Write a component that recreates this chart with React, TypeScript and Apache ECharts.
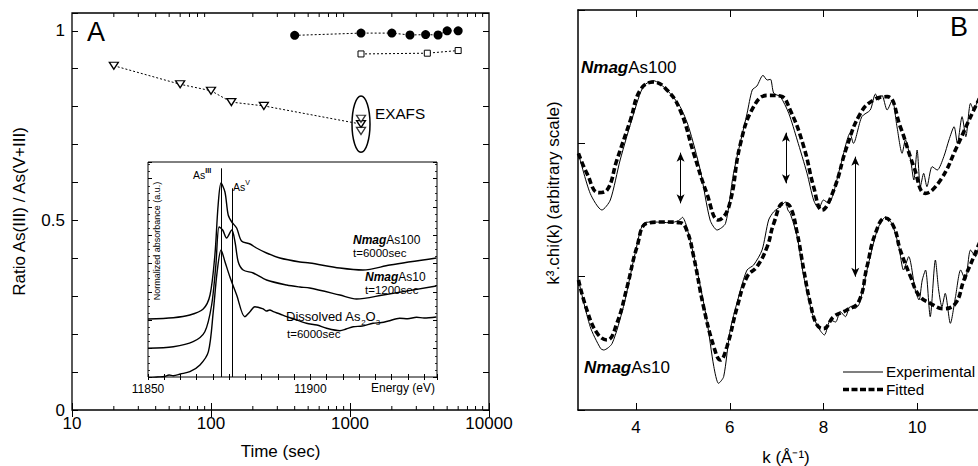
import React, { useEffect, useRef } from 'react';
import * as echarts from 'echarts';

const FONT = '"Liberation Sans", Arial, Helvetica, sans-serif';

// ---------- Panel A : ratio As(III)/As(V+III) vs time ----------
const circleTime = [400, 1200, 2000, 2700, 3500, 4300, 5000, 6000];
const circleRatio = [0.988, 0.994, 0.994, 0.989, 0.99, 0.989, 1.0, 1.0];
const squareTime = [1200, 3600, 6000];
const squareRatio = [0.939, 0.941, 0.948];
const triangleTime = [20, 60, 100, 140, 240, 1200];
const triangleRatio = [0.908, 0.859, 0.842, 0.812, 0.802, 0.754];
const exafsTime = [1200, 1200];
const exafsRatio = [0.768, 0.736];
const ratioLabels = ['0', '0.5', '1'];
const timeMinorTicks = [20, 30, 40, 50, 60, 70, 80, 90, 200, 300, 400, 500, 600, 700, 800, 900, 2000, 3000, 4000, 5000, 6000, 7000, 8000, 9000];
const exafsEllipse = { time: 1200, top: 0.828, bottom: 0.68 };

// ---------- Inset : XANES ----------
const xanesAs100: [number, number][] = [
  [11850, 0.58], [11857.8, 0.593], [11862.9, 0.62], [11867.0, 0.68], [11869.1, 0.82], [11870.6, 1.22],
  [11871.6, 1.72], [11872.5, 1.94], [11873.7, 1.85], [11874.7, 1.62], [11875.8, 1.55], [11877.3, 1.49],
  [11878.8, 1.36], [11881.4, 1.33], [11883.4, 1.29], [11886.5, 1.24], [11890.6, 1.19], [11896.8, 1.15],
  [11899.8, 1.14], [11909.1, 1.09], [11916.2, 1.07], [11924.5, 1.12], [11938.8, 1.19],
];
const xanesAs10: [number, number][] = [
  [11850, 0.287], [11857.8, 0.303], [11863.9, 0.353], [11867.5, 0.453], [11869.6, 0.72], [11870.9, 1.12],
  [11871.9, 1.5], [11873.0, 1.47], [11874.2, 1.39], [11875.8, 1.47], [11876.8, 1.35], [11877.8, 1.15],
  [11879.3, 1.07], [11882.4, 1.04], [11886.5, 0.97], [11892.7, 0.92], [11896.8, 0.9], [11899.8, 0.89],
  [11909.1, 0.82], [11914.2, 0.78], [11922.4, 0.82], [11938.8, 0.91],
];
const xanesAs2O3: [number, number][] = [
  [11850.5, -0.01], [11853, 0.0], [11855, 0.005], [11856.5, 0.02], [11857.8, 0.013], [11860, 0.03],
  [11862.9, 0.053], [11866.0, 0.12], [11868.6, 0.253], [11870.1, 0.653], [11871.3, 1.053], [11872.5, 1.27],
  [11873.7, 1.153], [11875.2, 1.003], [11877.3, 0.82], [11879.8, 0.603], [11881.4, 0.653], [11882.9, 0.703],
  [11885.5, 0.68], [11886.5, 0.66], [11887.5, 0.67], [11888.6, 0.653], [11890.6, 0.63], [11892.7, 0.603],
  [11895, 0.58], [11898.8, 0.537], [11902, 0.52], [11905.0, 0.487], [11909.1, 0.463], [11911, 0.48],
  [11913.2, 0.503], [11916, 0.51], [11919.3, 0.537], [11922, 0.545], [11924, 0.56], [11927.5, 0.587],
  [11930, 0.583], [11932.7, 0.597], [11935, 0.59], [11938.8, 0.6],
];
const edgeAsIII = { energy: 11872.7, top: 2.087 };
const edgeAsV = { energy: 11875.8, top: 1.887 };
const energyLabels = [11850, 11900];

// ---------- Panel B : EXAFS k3.chi(k) ----------
const topExp: [number, number][] = [
  [2.77, 1.925], [3.02, 1.625], [3.27, 1.5], [3.45, 1.575], [3.66, 1.875], [3.95, 2.225], [4.16, 2.43],
  [4.37, 2.47], [4.66, 2.4], [4.94, 2.275], [5.12, 2.125], [5.37, 1.8], [5.58, 1.425], [5.73, 1.35],
  [5.91, 1.4], [6.08, 1.775], [6.37, 2.225], [6.48, 2.4], [6.58, 2.43], [6.71, 2.51], [6.8, 2.475],
  [6.87, 2.48], [6.94, 2.375], [7.08, 2.35], [7.26, 2.225], [7.44, 2.025], [7.65, 1.775], [7.79, 1.575],
  [7.9, 1.51], [8.0, 1.575], [8.11, 1.55], [8.36, 1.825], [8.57, 2.075], [8.64, 2.0], [8.82, 2.2],
  [9.0, 2.25], [9.11, 2.37], [9.18, 2.325], [9.25, 2.36], [9.36, 2.25], [9.47, 2.325], [9.57, 2.125],
  [9.68, 1.925], [9.75, 2.025], [9.86, 1.875], [9.93, 1.725], [10.0, 1.95], [10.07, 1.675], [10.14, 1.775],
  [10.21, 1.675], [10.32, 1.825], [10.43, 1.8], [10.57, 1.9], [10.68, 2.025], [10.79, 2.125], [10.86, 2.0],
  [10.96, 2.2], [11.04, 2.05], [11.14, 2.3], [11.21, 2.25], [11.32, 2.35], [11.5, 2.45],
];
const topFit: [number, number][] = [
  [2.77, 1.925], [2.95, 1.775], [3.2, 1.63], [3.38, 1.65], [3.59, 1.875], [3.88, 2.175], [4.09, 2.4],
  [4.37, 2.46], [4.66, 2.4], [4.94, 2.25], [5.23, 1.925], [5.51, 1.625], [5.76, 1.425], [5.98, 1.525],
  [6.23, 2.0], [6.51, 2.275], [6.8, 2.36], [7.08, 2.355], [7.29, 2.25], [7.58, 1.975], [7.79, 1.675],
  [7.97, 1.5], [8.22, 1.65], [8.5, 1.975], [8.79, 2.225], [9.07, 2.325], [9.36, 2.35], [9.64, 2.125],
  [9.93, 1.825], [10.18, 1.625], [10.5, 1.725], [10.85, 1.975], [11.21, 2.25], [11.5, 2.45],
];
const botExp: [number, number][] = [
  [2.77, 0.975], [3.02, 0.625], [3.24, 0.4625], [3.31, 0.45], [3.49, 0.5], [3.73, 0.775], [3.98, 1.175],
  [4.16, 1.4], [4.38, 1.41], [4.73, 1.405], [4.91, 1.42], [4.99, 1.445], [5.08, 1.375], [5.3, 1.05],
  [5.51, 0.675], [5.66, 0.325], [5.76, 0.2], [5.87, 0.25], [6.01, 0.6], [6.23, 0.9], [6.37, 1.05],
  [6.51, 1.0875], [6.69, 1.2], [6.83, 1.425], [6.94, 1.4875], [7.08, 1.525], [7.19, 1.56], [7.24, 1.5],
  [7.29, 1.475], [7.44, 1.3], [7.58, 1.0], [7.76, 0.725], [7.9, 0.6125], [8.02, 0.5625], [8.15, 0.675],
  [8.26, 0.66], [8.36, 0.7375], [8.47, 0.7], [8.57, 0.775], [8.68, 0.7625], [8.77, 0.8], [8.93, 1.05],
  [9.15, 1.35], [9.32, 1.445], [9.46, 1.4], [9.61, 1.225], [9.71, 1.05], [9.82, 1.15], [9.96, 0.9],
  [10.04, 0.825], [10.11, 0.975], [10.18, 1.05], [10.28, 0.7], [10.39, 1.125], [10.46, 0.9], [10.53, 0.775],
  [10.6, 0.875], [10.71, 0.65], [10.82, 0.85], [10.93, 1.05], [11.03, 0.975], [11.14, 1.2], [11.25, 1.15],
  [11.32, 1.225], [11.5, 1.4],
];
const botFit: [number, number][] = [
  [2.77, 0.975], [2.95, 0.75], [3.17, 0.575], [3.38, 0.525], [3.59, 0.65], [3.81, 0.925], [4.02, 1.225],
  [4.23, 1.4], [4.59, 1.41], [4.94, 1.405], [5.08, 1.35], [5.23, 1.15], [5.44, 0.775], [5.66, 0.475],
  [5.8, 0.375], [5.94, 0.475], [6.16, 0.775], [6.37, 1.0], [6.58, 1.075], [6.8, 1.225], [6.94, 1.4],
  [7.15, 1.55], [7.29, 1.525], [7.44, 1.325], [7.58, 1.05], [7.72, 0.8], [7.86, 0.64], [8.0, 0.61],
  [8.22, 0.7], [8.5, 0.75], [8.75, 0.81], [8.93, 1.075], [9.11, 1.325], [9.32, 1.44], [9.5, 1.375],
  [9.64, 1.2], [9.86, 1.0], [10.04, 0.86], [10.28, 0.8], [10.57, 0.76], [10.82, 0.8], [11.0, 0.975],
  [11.21, 1.15], [11.5, 1.4],
];
const kMin = 2.76;
const kMax = 11.3;
const kTicks = [4, 6, 8, 10];
const arrows = [
  { k: 4.95, from: 1.93, to: 1.55 },
  { k: 7.2, from: 2.08, to: 1.7 },
  { k: 8.68, from: 1.9, to: 1.0 },
];
const legendNames = ['Experimental', 'Fitted'];

const near = (a: number, b: number) => Math.abs(a - b) < 1e-6;

const txt = (x: number, y: number, text: string, size: number, extra: any = {}) => ({
  type: 'text',
  x,
  y,
  z: 100,
  silent: true,
  style: {
    text,
    fill: '#000',
    fontSize: size,
    fontFamily: FONT,
    align: 'left',
    verticalAlign: 'middle',
    textAlign: 'left',
    textVerticalAlign: 'middle',
    ...extra,
  },
});

const nmag = (x: number, y: number, suffix: string, size: number) => ({
  type: 'text',
  x,
  y,
  z: 100,
  silent: true,
  style: {
    text: `{b|Nmag}{n|${suffix}}`,
    align: 'left',
    verticalAlign: 'middle',
    textAlign: 'left',
    textVerticalAlign: 'middle',
    rich: {
      b: { fontSize: size, fontWeight: 'bold', fontStyle: 'italic', fontFamily: FONT, fill: '#000', color: '#000' },
      n: { fontSize: size, fontFamily: FONT, fill: '#000', color: '#000' },
    },
  },
});

const tickStyle = { show: true, inside: true, lineStyle: { color: '#000', width: 1 } };

function buildOption() {
  const lineA = { color: '#000', width: 1, type: [2, 2] as any };
  return {
    animation: false,
    backgroundColor: '#fff',
    textStyle: { fontFamily: FONT, color: '#000' },
    grid: [
      { left: 72, top: 13, width: 417, height: 397, show: true, borderColor: '#000', borderWidth: 1.3, backgroundColor: 'transparent' },
      { left: 148, top: 162, width: 289, height: 215, show: true, borderColor: '#000', borderWidth: 1, backgroundColor: '#fff' },
      { left: 578, top: 10, right: 0, height: 400, show: false },
    ],
    xAxis: [
      {
        type: 'log', logBase: 10, gridIndex: 0, min: 10, max: 10000, position: 'bottom',
        axisLine: { show: false }, splitLine: { show: false },
        axisTick: { ...tickStyle, length: 7 },
        axisLabel: { fontSize: 17, color: '#000', fontFamily: FONT, margin: 5, formatter: (v: number) => String(Math.round(v)) },
        name: 'Time (sec)', nameLocation: 'middle', nameGap: 33,
        nameTextStyle: { fontSize: 17, color: '#000', fontFamily: FONT },
      },
      {
        type: 'log', logBase: 10, gridIndex: 0, min: 10, max: 10000, position: 'top',
        axisLine: { show: false }, splitLine: { show: false },
        axisTick: { ...tickStyle, length: 7 }, axisLabel: { show: false },
      },
      {
        type: 'value', gridIndex: 1, min: 11850, max: 11939, interval: 5, position: 'bottom',
        axisLine: { show: false }, splitLine: { show: false },
        axisTick: { ...tickStyle, length: 3 },
        axisLabel: {
          fontSize: 12, color: '#000', fontFamily: FONT, margin: 6,
          formatter: (v: number) => (energyLabels.some((e) => near(e, v)) ? String(Math.round(v)) : ''),
        },
      },
      {
        type: 'value', gridIndex: 1, min: 11850, max: 11939, interval: 5, position: 'top',
        axisLine: { show: false }, splitLine: { show: false },
        axisTick: { ...tickStyle, length: 3 }, axisLabel: { show: false },
      },
      {
        type: 'value', gridIndex: 2, min: kMin, max: kMax, position: 'bottom',
        axisLine: { show: true, lineStyle: { color: '#000', width: 1.5 } }, splitLine: { show: false },
        axisTick: { ...tickStyle, length: 7, customValues: kTicks },
        axisLabel: { fontSize: 17, color: '#000', fontFamily: FONT, margin: 9, customValues: kTicks, formatter: (v: number) => String(v) },
      },
      {
        type: 'value', gridIndex: 2, min: kMin, max: kMax, position: 'top',
        axisLine: { show: true, lineStyle: { color: '#000', width: 1.5 } }, splitLine: { show: false },
        axisTick: { ...tickStyle, length: 7, customValues: kTicks },
        axisLabel: { show: false, customValues: kTicks },
      },
    ],
    yAxis: [
      {
        type: 'value', gridIndex: 0, min: 0, max: 1.047, interval: 0.1, position: 'left',
        axisLine: { show: false }, splitLine: { show: false },
        axisTick: { ...tickStyle, length: 6 },
        axisLabel: {
          fontSize: 17, color: '#000', fontFamily: FONT, margin: 7,
          formatter: (v: number) => {
            const hit = ratioLabels.find((l) => near(Number(l), v));
            return hit ?? '';
          },
        },
        name: 'Ratio As(III) / As(V+III)', nameLocation: 'middle', nameGap: 44,
        nameTextStyle: { fontSize: 17, color: '#000', fontFamily: FONT },
      },
      {
        type: 'value', gridIndex: 0, min: 0, max: 1.047, interval: 0.1, position: 'right',
        axisLine: { show: false }, splitLine: { show: false },
        axisTick: { ...tickStyle, length: 6 }, axisLabel: { show: false },
      },
      {
        type: 'value', gridIndex: 1, min: 0, max: 2.15, interval: 0.28333, position: 'left',
        axisLine: { show: false }, splitLine: { show: false },
        axisTick: { ...tickStyle, length: 4 },
        minorTick: { show: true, splitNumber: 4, length: 2, lineStyle: { color: '#000', width: 0.8 } },
        axisLabel: { show: false },
      },
      {
        type: 'value', gridIndex: 1, min: 0, max: 2.15, interval: 0.28333, position: 'right',
        axisLine: { show: false }, splitLine: { show: false },
        axisTick: { ...tickStyle, length: 4 },
        minorTick: { show: true, splitNumber: 4, length: 2, lineStyle: { color: '#000', width: 0.8 } },
        axisLabel: { show: false },
      },
      {
        type: 'value', gridIndex: 2, min: 0, max: 3, interval: 1, position: 'left',
        axisLine: { show: true, lineStyle: { color: '#000', width: 1.5 } }, splitLine: { show: false },
        axisTick: { ...tickStyle, length: 7 }, axisLabel: { show: false },
      },
    ],
    series: [
      // Panel A
      {
        type: 'line', name: 'circles', xAxisIndex: 0, yAxisIndex: 0,
        data: circleTime.map((t, i) => [t, circleRatio[i]]),
        symbol: 'circle', symbolSize: 9, itemStyle: { color: '#000' }, lineStyle: lineA, z: 5,
      },
      {
        type: 'line', name: 'squares', xAxisIndex: 0, yAxisIndex: 0,
        data: squareTime.map((t, i) => [t, squareRatio[i]]),
        symbol: 'rect', symbolSize: 6, itemStyle: { color: '#fff', borderColor: '#000', borderWidth: 1 }, lineStyle: lineA, z: 5,
      },
      {
        type: 'line', name: 'triangles', xAxisIndex: 0, yAxisIndex: 0,
        data: triangleTime.map((t, i) => [t, triangleRatio[i]]),
        symbol: 'triangle', symbolRotate: 180, symbolSize: [9, 7],
        itemStyle: { color: '#fff', borderColor: '#000', borderWidth: 1.3 }, lineStyle: lineA, z: 5,
      },
      {
        type: 'scatter', name: 'exafs', xAxisIndex: 0, yAxisIndex: 0,
        data: exafsTime.map((t, i) => [t, exafsRatio[i]]),
        symbol: 'triangle', symbolRotate: 180, symbolSize: [9, 7],
        itemStyle: { color: '#fff', borderColor: '#000', borderWidth: 1.3 }, z: 5,
      },
      {
        type: 'custom', name: 'minorTicks', xAxisIndex: 0, yAxisIndex: 0, silent: true,
        data: timeMinorTicks.map((t) => [t, 0.5]),
        renderItem: (params: any, api: any) => {
          const x = api.coord([api.value(0), 0.5])[0];
          const cs = params.coordSys;
          const b = cs.y + cs.height;
          return {
            type: 'group',
            children: [
              { type: 'line', shape: { x1: x, y1: b, x2: x, y2: b - 4 }, style: { stroke: '#000', lineWidth: 1 } },
              { type: 'line', shape: { x1: x, y1: cs.y, x2: x, y2: cs.y + 4 }, style: { stroke: '#000', lineWidth: 1 } },
            ],
          };
        },
      },
      // Inset
      {
        type: 'line', name: 'NmagAs100 XANES', xAxisIndex: 2, yAxisIndex: 2, data: xanesAs100,
        showSymbol: false, symbol: 'none', smooth: 0.3, lineStyle: { color: '#000', width: 1.4 }, z: 3,
        markLine: {
          silent: true, symbol: ['none', 'none'], label: { show: false },
          lineStyle: { color: '#000', width: 1, type: 'solid' },
          data: [
            [{ coord: [edgeAsIII.energy, 0] }, { coord: [edgeAsIII.energy, edgeAsIII.top] }],
            [{ coord: [edgeAsV.energy, 0] }, { coord: [edgeAsV.energy, edgeAsV.top] }],
          ],
        },
      },
      {
        type: 'line', name: 'NmagAs10 XANES', xAxisIndex: 2, yAxisIndex: 2, data: xanesAs10,
        showSymbol: false, symbol: 'none', smooth: 0.3, lineStyle: { color: '#000', width: 1.4 }, z: 3,
      },
      {
        type: 'line', name: 'As2O3 XANES', xAxisIndex: 2, yAxisIndex: 2, data: xanesAs2O3,
        showSymbol: false, symbol: 'none', smooth: 0.3, lineStyle: { color: '#000', width: 1.4 }, z: 3,
      },
      // Panel B
      {
        type: 'line', name: legendNames[0], xAxisIndex: 4, yAxisIndex: 4, data: topExp,
        symbol: 'none', smooth: 0.25, lineStyle: { color: '#000', width: 1 }, itemStyle: { color: '#000' },
      },
      {
        type: 'line', name: legendNames[0], xAxisIndex: 4, yAxisIndex: 4, data: botExp,
        symbol: 'none', smooth: 0.25, lineStyle: { color: '#000', width: 1 }, itemStyle: { color: '#000' },
      },
      {
        type: 'line', name: legendNames[1], xAxisIndex: 4, yAxisIndex: 4, data: topFit,
        symbol: 'none', smooth: 0.45, lineStyle: { color: '#000', width: 3.6, type: [6, 3] as any }, itemStyle: { color: '#000' },
      },
      {
        type: 'line', name: legendNames[1], xAxisIndex: 4, yAxisIndex: 4, data: botFit,
        symbol: 'none', smooth: 0.45, lineStyle: { color: '#000', width: 3.6, type: [6, 3] as any }, itemStyle: { color: '#000' },
        markLine: {
          silent: true, symbol: ['arrow', 'arrow'], symbolSize: [6, 9], label: { show: false },
          lineStyle: { color: '#000', width: 1, type: 'solid' }, itemStyle: { color: '#000' },
          data: arrows.map((a) => [{ coord: [a.k, a.from] }, { coord: [a.k, a.to] }]),
        },
      },
    ],
  };
}

export default function App() {
  const ref = useRef<HTMLDivElement>(null);
  useEffect(() => {
    document.body.style.margin = '0';
    const el = ref.current!;
    const chart = echarts.init(el, null, { renderer: 'svg' });
    chart.setOption(buildOption() as any);

    const finder = { xAxisIndex: 0, yAxisIndex: 0 };
    const eTop = chart.convertToPixel(finder as any, [exafsEllipse.time, exafsEllipse.top]) as number[];
    const eBot = chart.convertToPixel(finder as any, [exafsEllipse.time, exafsEllipse.bottom]) as number[];

    const graphic: any[] = [
      { type: 'ellipse', z: 100, silent: true, shape: { cx: eTop[0], cy: (eTop[1] + eBot[1]) / 2, rx: 9, ry: (eBot[1] - eTop[1]) / 2 }, style: { fill: 'none', stroke: '#000', lineWidth: 1.5 } },
      txt(87, 32, 'A', 27),
      txt(375, 113, 'EXAFS', 15.3),
      txt(950, 27, 'B', 27),
      nmag(581, 67, 'As100', 17),
      nmag(584, 367, 'As10', 17),
      txt(786, 457, 'k (Å⁻¹)', 17, { align: 'center', textAlign: 'center' }),
      {
        ...txt(553, 193, 'k³.chi(k) (arbitrary scale)', 17, { align: 'center', textAlign: 'center' }),
        rotation: Math.PI / 2,
      },
      // legend of panel B
      { type: 'line', z: 100, silent: true, shape: { x1: 843, y1: 372, x2: 883, y2: 372 }, style: { stroke: '#000', lineWidth: 1.2 } },
      { type: 'line', z: 100, silent: true, shape: { x1: 843, y1: 389.5, x2: 883, y2: 389.5 }, style: { stroke: '#000', lineWidth: 3.6, lineDash: [6, 2.5] } },
      txt(886, 371, legendNames[0], 15.3),
      txt(886, 389, legendNames[1], 15.3),
      // inset annotations
      {
        ...txt(157, 241, 'Normalized absorbance (a.u.)', 9, { align: 'center', textAlign: 'center' }),
        rotation: Math.PI / 2,
      },
      txt(371, 388, 'Energy (eV)', 12),
      {
        type: 'text', x: 193, y: 175, z: 100, silent: true,
        style: {
          text: '{m|As}{s|III}', verticalAlign: 'middle', textVerticalAlign: 'middle', fill: '#000',
          rich: {
            m: { fontSize: 10.5, lineHeight: 16, fontFamily: FONT, fill: '#000', color: '#000' },
            s: { fontSize: 7, lineHeight: 7, verticalAlign: 'top', fontWeight: 'bold', fontFamily: FONT, fill: '#000', color: '#000' },
          },
        },
      },
      {
        type: 'text', x: 233, y: 187, z: 100, silent: true,
        style: {
          text: '{m|As}{s|V}', verticalAlign: 'middle', textVerticalAlign: 'middle', fill: '#000',
          rich: {
            m: { fontSize: 10.5, lineHeight: 16, fontFamily: FONT, fill: '#000', color: '#000' },
            s: { fontSize: 7, lineHeight: 7, verticalAlign: 'top', fontFamily: FONT, fill: '#000', color: '#000' },
          },
        },
      },
      nmag(353, 240, 'As100', 12),
      txt(353, 253, 't=6000sec', 11.5),
      nmag(365, 277, 'As10', 12),
      txt(365, 290, 't=1200sec', 11.5),
      {
        type: 'text', x: 286, y: 316, z: 100, silent: true,
        style: {
          text: '{m|Dissolved As}{s|2}{m|O}{s|3}', verticalAlign: 'middle', textVerticalAlign: 'middle', fill: '#000',
          rich: {
            m: { fontSize: 13, lineHeight: 20, fontFamily: FONT, fill: '#000', color: '#000' },
            s: { fontSize: 8, lineHeight: 8, verticalAlign: 'bottom', fontFamily: FONT, fill: '#000', color: '#000' },
          },
        },
      },
      txt(287, 334, 't=6000sec', 11.5),
    ];
    chart.setOption({ graphic } as any);
    return () => chart.dispose();
  }, []);
  return (
    <div
      ref={ref}
      style={{ position: 'fixed', left: 0, top: 0, width: 978, height: 466, background: '#fff' }}
    />
  );
}
